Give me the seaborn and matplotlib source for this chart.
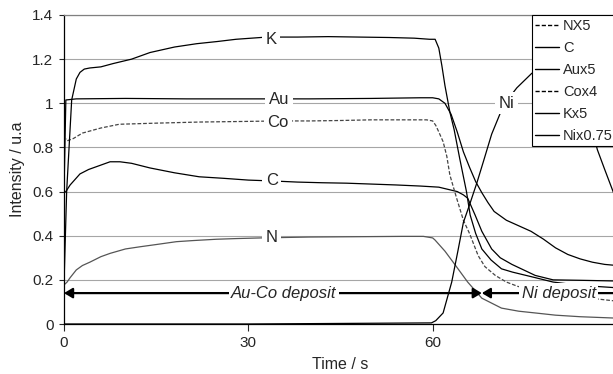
import numpy as np
import matplotlib
matplotlib.use("Agg")
import matplotlib.pyplot as plt
from matplotlib.lines import Line2D
import seaborn as sns

# time (s) / intensity (u.a)
t_K = [0, 0.43, 1.25, 2, 2.6, 3.3, 4.2, 6, 8, 11, 14, 18, 21.6, 25, 28, 33, 38, 43, 48, 53, 57,
       59.5, 60.4, 61, 61.5, 62, 62.8, 63.5, 64.4, 65.5, 66.1, 67, 68, 69.5, 71.2, 73, 76.7, 79.6, 84, 89.5]
K = [0.18, 0.6, 1.015, 1.11, 1.14, 1.155, 1.16, 1.165, 1.18, 1.2, 1.23, 1.255, 1.27, 1.28, 1.29, 1.3, 1.3,
     1.302, 1.3, 1.298, 1.295, 1.29, 1.29, 1.25, 1.17, 1.08, 0.96, 0.88, 0.75, 0.6, 0.494, 0.41, 0.34,
     0.29, 0.25, 0.235, 0.21, 0.19, 0.175, 0.165]

t_Au = [0, 0.3, 2, 10, 20, 30, 40, 50, 58, 60, 61, 62, 63, 64, 65, 66, 67, 68, 69, 70, 71, 72,
        74, 76, 78, 80, 82, 84, 86, 88, 90]
Au = [0.6, 1.015, 1.02, 1.022, 1.02, 1.02, 1.02, 1.022, 1.025, 1.025, 1.02, 1.0, 0.95, 0.87, 0.78,
      0.71, 0.645, 0.595, 0.55, 0.51, 0.49, 0.47, 0.445, 0.42, 0.385, 0.345, 0.315, 0.295, 0.28,
      0.27, 0.265]

t_Co = [0, 0.5, 1.5, 3, 6, 9, 15, 22, 30, 35, 40, 45, 50, 55, 59, 60, 60.5, 61, 61.7, 62.3, 62.8,
        63.9, 65, 66, 67.4, 68.5, 70.2, 72, 73.9, 78, 83, 89.5]
Co = [0.85, 0.83, 0.84, 0.865, 0.888, 0.905, 0.91, 0.915, 0.918, 0.92, 0.92, 0.922, 0.925, 0.925,
      0.925, 0.92, 0.9, 0.87, 0.826, 0.76, 0.675, 0.57, 0.47, 0.41, 0.31, 0.26, 0.22, 0.19, 0.17,
      0.15, 0.125, 0.105]

t_C = [0, 0.3, 1, 2.6, 4, 5.3, 7.5, 9.1, 11, 14, 18, 22, 26, 30, 34, 38, 42, 46, 50, 54, 58, 61,
       62.5, 64, 65, 65.7, 66.9, 68, 69.6, 71, 72.9, 76.7, 79.6, 84, 89.5]
C = [0.594, 0.6, 0.63, 0.68, 0.7, 0.713, 0.735, 0.735, 0.728, 0.707, 0.685, 0.667, 0.66, 0.652,
     0.648, 0.643, 0.64, 0.638, 0.634, 0.63, 0.625, 0.62, 0.61, 0.6, 0.585, 0.57, 0.494, 0.42, 0.34,
     0.3, 0.27, 0.22, 0.2, 0.198, 0.195]

t_N = [0, 0.5, 1, 2, 3, 4.2, 6, 7.5, 10, 12.4, 15, 18.3, 21, 24.8, 28, 32, 36, 40, 45, 50, 55, 58.5,
       60, 60.4, 62, 63.6, 65.7, 68, 71.2, 74, 76.7, 80, 84, 89.5]
N = [0.177, 0.19, 0.21, 0.245, 0.265, 0.28, 0.305, 0.32, 0.34, 0.35, 0.36, 0.373, 0.378, 0.384,
     0.387, 0.39, 0.392, 0.394, 0.395, 0.396, 0.397, 0.397, 0.39, 0.38, 0.33, 0.27, 0.19, 0.117,
     0.072, 0.058, 0.05, 0.04, 0.033, 0.027]

t_Ni = [0, 30, 59.8, 60.5, 61.7, 63.1, 64.1, 65, 66, 67.2, 68.3, 69.6, 71, 72.3, 73.7, 76.1, 78, 80,
        82, 84, 85.5, 86.8, 88, 89.5]
Ni = [0, 0, 0.005, 0.015, 0.05, 0.19, 0.33, 0.46, 0.54, 0.64, 0.74, 0.86, 0.955, 1.02, 1.07, 1.135,
      1.17, 1.19, 1.17, 1.07, 0.93, 0.79, 0.7, 0.59]

legend_labels = ['NX5', 'C', 'Aux5', 'Cox4', 'Kx5', 'Nix0.75']
legend_dashed = [True, False, False, True, False, False]

y_ticks = [0, 0.2, 0.4, 0.6, 0.8, 1, 1.2, 1.4]
y_tick_labels = ['0', '0.2', '0.4', '0.6', '0.8', '1', '1.2', '1.4']
x_ticks = [0, 30, 60, 90]
x_tick_labels = ['0', '30', '60', '']  # 90 falls outside the cropped picture

sns.set_style('white')
plt.rcParams['font.family'] = ['Liberation Sans', 'DejaVu Sans']

W, H = 613, 374
fig = plt.figure(figsize=(W / 100, H / 100), dpi=100)
ax = fig.add_axes([64 / W, 50 / H, 553 / W, 309 / H])

DASH = (0, (3, 1.5))
sns.lineplot(x=t_N, y=N, ax=ax, color='#555555', lw=0.9, estimator=None, sort=False)
sns.lineplot(x=t_C, y=C, ax=ax, color='black', lw=0.9, estimator=None, sort=False)
sns.lineplot(x=t_Au, y=Au, ax=ax, color='black', lw=0.9, estimator=None, sort=False)
sns.lineplot(x=t_Co, y=Co, ax=ax, color='#444444', lw=0.9, linestyle=DASH, estimator=None, sort=False)
sns.lineplot(x=t_K, y=K, ax=ax, color='black', lw=0.9, estimator=None, sort=False)
sns.lineplot(x=t_Ni, y=Ni, ax=ax, color='black', lw=0.9, estimator=None, sort=False)

ax.set_xlim(0, 90)
ax.set_ylim(0, 1.4)
ax.set_yticks(y_ticks)
ax.set_yticklabels(y_tick_labels)
ax.set_xticks(x_ticks)
ax.set_xticklabels(x_tick_labels)
ax.grid(axis='y', color='#a6a6a6', lw=0.8)
ax.set_axisbelow(True)
for s in ['left', 'bottom']:
    ax.spines[s].set_color('black')
    ax.spines[s].set_linewidth(0.9)
ax.spines['top'].set_color('#808080')
ax.spines['top'].set_linewidth(0.9)
ax.spines['right'].set_visible(False)
ax.tick_params(axis='y', direction='out', length=3.6, width=0.8, pad=4, labelsize=11, left=True)
ax.tick_params(axis='x', direction='out', length=5, width=0.8, pad=3.5, labelsize=11, bottom=True)
ax.set_xlabel('Time / s', fontsize=11.5, labelpad=5)
ax.set_ylabel('Intensity / u.a', fontsize=11.5, labelpad=5)

box = dict(boxstyle='square,pad=0.2', fc='white', ec='none')
for txt, x, y in [('K', 33.7, 1.29), ('Au', 35, 1.018), ('Co', 34.8, 0.915),
                  ('C', 33.8, 0.652), ('N', 33.8, 0.39), ('Ni', 72, 1.0)]:
    ax.text(x, y, txt, fontsize=12, ha='center', va='center', bbox=box, zorder=4)

# deposit arrows
ax.annotate('', xy=(0, 0.14), xytext=(68, 0.14), annotation_clip=False,
            arrowprops=dict(arrowstyle='<|-|>,head_length=0.5,head_width=0.3', lw=1.6,
                            color='black', shrinkA=0, shrinkB=0), zorder=3)
ax.annotate('', xy=(68, 0.14), xytext=(95, 0.14), annotation_clip=False,
            arrowprops=dict(arrowstyle='-|>,head_length=0.5,head_width=0.3', lw=1.6,
                            color='black', shrinkA=0, shrinkB=0), zorder=3)
ax.text(35.8, 0.14, 'Au-Co deposit', fontsize=12, style='italic', ha='center', va='center',
        bbox=dict(boxstyle='square,pad=0.15', fc='white', ec='none'), zorder=4)
ax.text(80.5, 0.14, 'Ni deposit', fontsize=12, style='italic', ha='center', va='center',
        bbox=dict(boxstyle='square,pad=0.15', fc='white', ec='none'), zorder=4)

handles = [Line2D([], [], color='black', lw=1.0, linestyle=DASH if d else '-') for d in legend_dashed]
leg = ax.legend(handles, legend_labels, loc='upper left', bbox_to_anchor=(531.7 / W, 1 - 15 / H),
                bbox_transform=fig.transFigure, borderaxespad=0, fontsize=10.5, handlelength=1.6,
                handletextpad=0.3, labelspacing=0.55, borderpad=0.25, fancybox=False, framealpha=1)
leg.get_frame().set_edgecolor('black')
leg.get_frame().set_linewidth(0.8)
leg.set_zorder(6)

fig.savefig('out.png', dpi=100)
